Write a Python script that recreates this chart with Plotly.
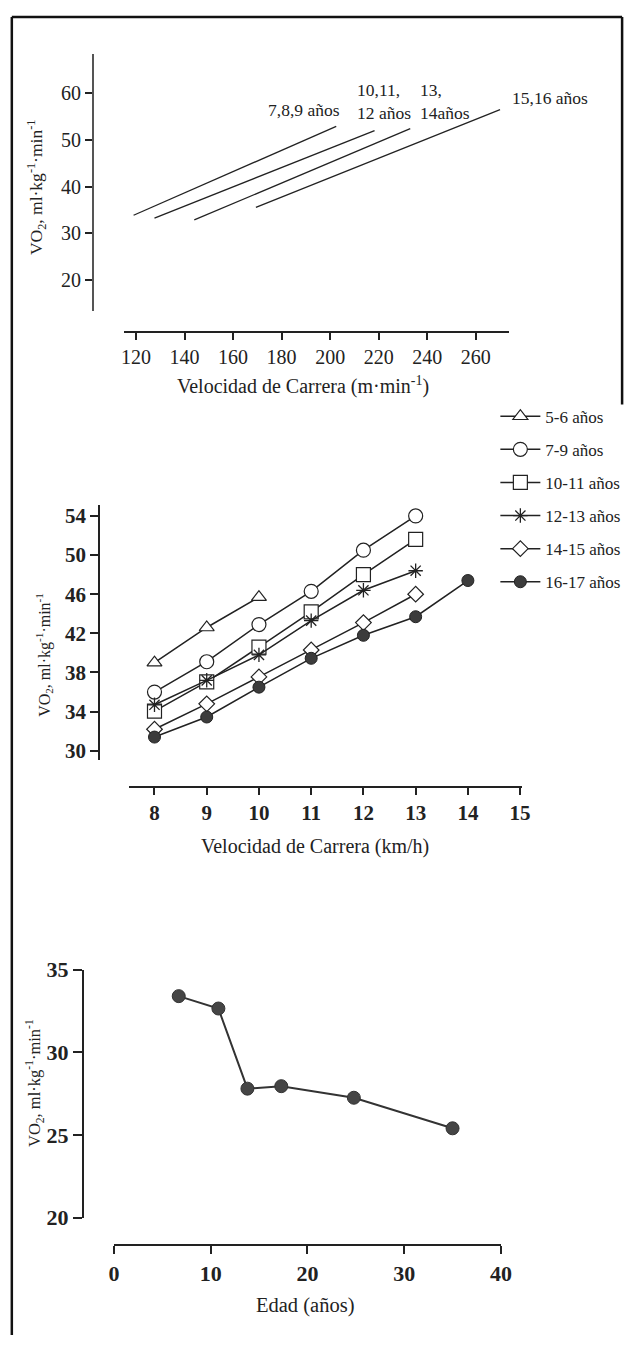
import plotly.graph_objects as go

W, H = 637, 1348
FONT = "Liberation Serif"
INK = "#222222"


def fx(p):
    return p / W


def fy(p):
    return 1 - p / H


# ---------------- data ----------------
# Top chart: regression lines VO2 vs running speed (m/min)
top_groups = ["7,8,9 años", "10,11,<br>12 años", "13,<br>14años", "15,16 años"]
top_speed_start = [119.0, 127.6, 144.0, 169.4]
top_speed_end = [202.5, 218.3, 233.0, 270.0]
top_vo2_start = [33.9, 33.3, 32.9, 35.6]
top_vo2_end = [52.9, 52.0, 52.4, 56.5]
top_xticks = [120, 140, 160, 180, 200, 220, 240, 260]
top_yticks = [20, 30, 40, 50, 60]

# Middle chart: VO2 vs running speed (km/h) by age group
speed_kmh = [8, 9, 10, 11, 12, 13, 14]
mid_groups = ["5-6 años", "7-9 años", "10-11 años", "12-13 años", "14-15 años", "16-17 años"]
vo2_5_6 = [39.0, 42.6, 45.7]
vo2_7_9 = [36.0, 39.1, 42.9, 46.3, 50.5, 54.0]
vo2_10_11 = [34.05, 37.05, 40.6, 44.2, 48.0, 51.6]
vo2_12_13 = [34.7, 37.2, 39.8, 43.3, 46.4, 48.4]
vo2_14_15 = [32.2, 34.8, 37.55, 40.3, 43.1, 46.0]
vo2_16_17 = [31.4, 33.45, 36.5, 39.45, 41.8, 43.7, 47.4]
mid_xticks = [8, 9, 10, 11, 12, 13, 14, 15]
mid_yticks = [30, 34, 38, 42, 46, 50, 54]

# Bottom chart: VO2 vs age
age_years = [6.7, 10.8, 13.8, 17.3, 24.8, 35.0]
vo2_age = [33.4, 32.65, 27.8, 27.95, 27.25, 25.4]
bot_xticks = [0, 10, 20, 30, 40]
bot_yticks = [20, 25, 30, 35]

# ---------------- figure ----------------
fig = go.Figure()

# top chart lines
for i in range(len(top_groups)):
    fig.add_trace(go.Scatter(
        x=[top_speed_start[i], top_speed_end[i]],
        y=[top_vo2_start[i], top_vo2_end[i]],
        mode="lines", line=dict(color=INK, width=1.3),
        xaxis="x", yaxis="y", showlegend=False, hoverinfo="skip"))

# middle chart series
mid_values = [vo2_5_6, vo2_7_9, vo2_10_11, vo2_12_13, vo2_14_15, vo2_16_17]
mid_markers = [
    dict(symbol="triangle-up", size=13, color="white", line=dict(color=INK, width=1.2)),
    dict(symbol="circle", size=14, color="white", line=dict(color=INK, width=1.2)),
    dict(symbol="square", size=14, color="white", line=dict(color=INK, width=1.2)),
    dict(symbol="asterisk-open", size=12, color=INK, line=dict(color=INK, width=1.3)),
    dict(symbol="diamond", size=12, color="white", line=dict(color=INK, width=1.2)),
    dict(symbol="circle", size=12, color="#3c3c3c", line=dict(color="#222", width=1)),
]
for name, vals, mk in zip(mid_groups, mid_values, mid_markers):
    fig.add_trace(go.Scatter(
        x=speed_kmh[:len(vals)], y=vals, name=name, legendgroup=name,
        mode="lines+markers", line=dict(color=INK, width=1.5), marker=mk,
        xaxis="x2", yaxis="y2", cliponaxis=False))

# bottom chart
fig.add_trace(go.Scatter(
    x=age_years, y=vo2_age, mode="lines+markers",
    line=dict(color="#333333", width=2),
    marker=dict(symbol="circle", size=13, color="#454545", line=dict(color="#333", width=1)),
    xaxis="x3", yaxis="y3", showlegend=False, cliponaxis=False))

tick_reg = dict(family=FONT, size=20, color=INK)
tick_bold = dict(family=FONT, size=21, color=INK, weight="bold")

common = dict(showgrid=False, zeroline=False, showline=True, ticks="outside",
              anchor="free", tickcolor=INK, fixedrange=True)

fig.update_layout(
    width=W, height=H, autosize=False,
    margin=dict(l=0, r=0, t=0, b=0, pad=0),
    paper_bgcolor="white", plot_bgcolor="rgba(0,0,0,0)",
    font=dict(family=FONT, color=INK),
    xaxis=dict(common, domain=[fx(121.7), fx(517)], range=[114.9, 273.7],
               position=fy(325.7), tickvals=top_xticks, ticklen=7, tickwidth=1.5,
               linecolor=INK, linewidth=2, tickfont=tick_reg),
    yaxis=dict(common, domain=[fy(305), fy(43)], range=[13.34, 68.34],
               position=fx(90), tickvals=top_yticks, ticklen=7, tickwidth=1.5,
               linecolor="#555", linewidth=1.5, tickfont=tick_reg),
    xaxis2=dict(common, domain=[fx(127.3), fx(530)], range=[7.514, 15.03],
                position=fy(789.3), tickvals=mid_xticks, ticklen=7, tickwidth=1.5,
                linecolor=INK, linewidth=2, tickfont=tick_bold),
    yaxis2=dict(common, domain=[fy(762), fy(502)], range=[29.07, 55.15],
                position=fx(96.7), tickvals=mid_yticks, ticklen=8, tickwidth=1.5,
                linecolor=INK, linewidth=2, tickfont=tick_bold),
    xaxis3=dict(common, domain=[fx(111.7), fx(508.7)], range=[0, 40],
                position=fy(1256.7), tickvals=bot_xticks, ticklen=8, tickwidth=1.5,
                linecolor=INK, linewidth=2, tickfont=dict(tick_bold, size=22)),
    yaxis3=dict(common, domain=[fy(1228.3), fy(975.8)], range=[20, 35],
                position=fx(80), tickvals=bot_yticks, ticklen=9, tickwidth=1.5,
                linecolor=INK, linewidth=2, tickfont=dict(tick_bold, size=22)),
    legend=dict(x=fx(503), y=fy(394), xanchor="left", yanchor="top",
                traceorder="grouped", tracegroupgap=8, itemwidth=40,
                font=dict(family=FONT, size=17, color=INK),
                bgcolor="rgba(0,0,0,0)", borderwidth=0),
    showlegend=True,
)

ylab = "VO<sub>2</sub>, ml·kg<sup>-1</sup>·min<sup>-1</sup>"
annotations = [
    # top chart titles
    dict(text=ylab, x=fx(31.7), y=fy(178.5), textangle=-90, font=dict(size=17.5)),
    dict(text="Velocidad de Carrera (m·min<sup>-1</sup>)", x=fx(306), y=fy(381), font=dict(size=20)),
    # middle chart titles
    dict(text=ylab, x=fx(40), y=fy(655), textangle=-90, font=dict(size=16)),
    dict(text="Velocidad de Carrera (km/h)", x=fx(318), y=fy(850), font=dict(size=20)),
    # bottom chart titles
    dict(text=ylab, x=fx(30), y=fy(1091), textangle=-90, font=dict(size=16.5)),
    dict(text="Edad (años)", x=fx(308), y=fy(1318), font=dict(size=20.5)),
]
for a in annotations:
    a.update(xref="paper", yref="paper", xanchor="center", yanchor="middle",
             showarrow=False)
    a["font"] = dict(family=FONT, color=INK, **a["font"])

# labels of the top chart lines
top_label_pos = [(268, 100), (359, 91), (424, 91), (518, 88)]
for text, (lx, ly) in zip(top_groups, top_label_pos):
    annotations.append(dict(text=text, x=fx(lx), y=fy(ly), xref="paper", yref="paper",
                            xanchor="left", yanchor="middle", align="left",
                            showarrow=False, font=dict(family=FONT, size=17.5, color=INK)))
fig.update_layout(annotations=annotations)

# page frame
frame = dict(type="line", xref="paper", yref="paper", line=dict(color="#111", width=2.5))
fig.update_layout(shapes=[
    dict(frame, x0=fx(7), x1=fx(7), y0=fy(5), y1=0),
    dict(frame, x0=fx(7), x1=fx(633), y0=fy(5), y1=fy(5)),
    dict(frame, x0=fx(633), x1=fx(633), y0=fy(5), y1=fy(400)),
])

fig.write_html("out.html", config=dict(displayModeBar=False))
